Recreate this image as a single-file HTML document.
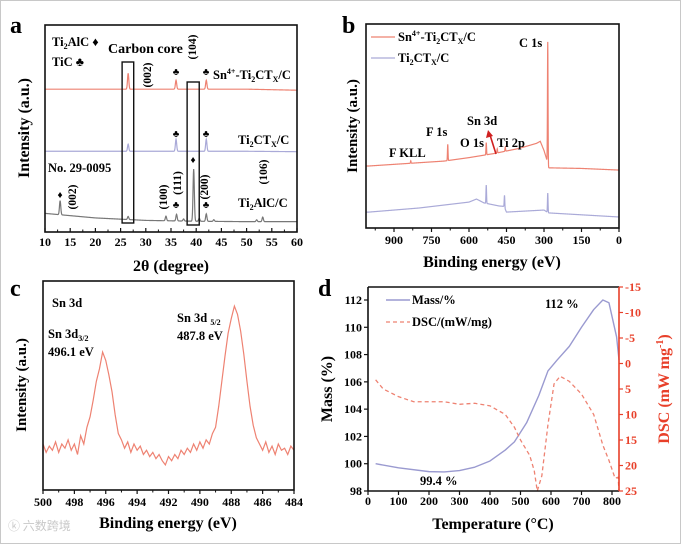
<!DOCTYPE html>
<html><head><meta charset="utf-8"><style>
html,body{margin:0;padding:0;background:#fff;}
svg{display:block;font-family:"Liberation Serif",serif;font-weight:bold;}
</style></head><body>
<svg id="fig" width="683" height="544" viewBox="0 0 683 544" xmlns="http://www.w3.org/2000/svg">
<rect x="0.5" y="0.5" width="680" height="543" fill="#fff" stroke="#c8c8c8"/>
<g font-size="24">
<text x="10" y="33">a</text>
<text x="342" y="33">b</text>
<text x="10" y="296">c</text>
<text x="318" y="296">d</text>
</g>
<g id="pa"></g>
<g id="pb"></g>
<g id="pc"></g>
<g id="pd"></g>

<g font-size="12.5">
<text transform="translate(29,128) rotate(-90)" font-size="16" text-anchor="middle">Intensity (a.u.)</text>
<text x="171" y="271" font-size="16" text-anchor="middle">2θ (degree)</text>
<text x="52" y="46">Ti<tspan font-size="8" dy="3">2</tspan><tspan dy="-3">AlC ♦</tspan></text>
<text x="52" y="66">TiC ♣</text>
<text x="108" y="53" font-size="14">Carbon core</text>
<text x="213" y="79">Sn<tspan font-size="8" dy="-5">4+</tspan><tspan dy="5">-Ti</tspan><tspan font-size="8" dy="3">2</tspan><tspan dy="-3">CT</tspan><tspan font-size="8" dy="3">X</tspan><tspan dy="-3">/C</tspan></text>
<text x="238" y="144">Ti<tspan font-size="8" dy="3">2</tspan><tspan dy="-3">CT</tspan><tspan font-size="8" dy="3">X</tspan><tspan dy="-3">/C</tspan></text>
<text x="238" y="207">Ti<tspan font-size="8" dy="3">2</tspan><tspan dy="-3">AlC/C</tspan></text>
<text x="48" y="172">No. 29-0095</text>
<text transform="translate(151,75) rotate(-90)" text-anchor="middle" font-size="11.5">(002)</text>
<text transform="translate(196,47) rotate(-90)" text-anchor="middle" font-size="11.5">(104)</text>
<text transform="translate(76,197) rotate(-90)" text-anchor="middle" font-size="11.5">(002)</text>
<text transform="translate(167,197) rotate(-90)" text-anchor="middle" font-size="11.5">(100)</text>
<text transform="translate(181,183) rotate(-90)" text-anchor="middle" font-size="11.5">(111)</text>
<text transform="translate(208,187) rotate(-90)" text-anchor="middle" font-size="11.5">(200)</text>
<text transform="translate(267,172) rotate(-90)" text-anchor="middle" font-size="11.5">(106)</text>
<g font-size="10" text-anchor="middle">
<text x="176" y="75">♣</text><text x="206" y="75">♣</text>
<text x="176" y="137">♣</text><text x="206" y="137">♣</text>
<text x="60" y="198">♦</text><text x="193" y="163">♦</text>
<text x="176" y="208">♣</text><text x="206" y="208">♣</text>
</g>
</g>

<g font-size="12.5">
<text transform="translate(357,126) rotate(-90)" text-anchor="middle" font-size="15">Intensity (a.u.)</text>
<text x="492" y="267" text-anchor="middle" font-size="16">Binding energy (eV)</text>
<line x1="371" y1="37" x2="395" y2="37" stroke="#ee8272" stroke-width="1.3"/>
<text x="398" y="41">Sn<tspan font-size="8" dy="-5">4+</tspan><tspan dy="5">-Ti</tspan><tspan font-size="8" dy="3">2</tspan><tspan dy="-3">CT</tspan><tspan font-size="8" dy="3">X</tspan><tspan dy="-3">/C</tspan></text>
<line x1="371" y1="58" x2="395" y2="58" stroke="#aaaad8" stroke-width="1.3"/>
<text x="398" y="62">Ti<tspan font-size="8" dy="3">2</tspan><tspan dy="-3">CT</tspan><tspan font-size="8" dy="3">X</tspan><tspan dy="-3">/C</tspan></text>
<text x="519" y="47">C 1s</text>
<text x="467" y="125">Sn 3d</text>
<text x="426" y="136">F 1s</text>
<text x="460" y="147">O 1s</text>
<text x="497" y="147">Ti 2p</text>
<text x="389" y="157">F KLL</text>
<line x1="496" y1="154" x2="490" y2="135" stroke="#d02020" stroke-width="1.6"/>
<path d="M488,130 L486,138 L493,136 Z" fill="#d02020"/>
</g>

<g font-size="12.5">
<text transform="translate(26,385) rotate(-90)" text-anchor="middle" font-size="15">Intensity (a.u.)</text>
<text x="168" y="528" text-anchor="middle" font-size="16">Binding energy (eV)</text>
<text x="52" y="307">Sn 3d</text>
<text x="48" y="338">Sn 3d<tspan font-size="8" dy="3">3/2</tspan></text>
<text x="48" y="356">496.1 eV</text>
<text x="177" y="322">Sn 3d <tspan font-size="8" dy="3">5/2</tspan></text>
<text x="177" y="340">487.8 eV</text>
<text x="8" y="530" font-size="12" fill="#c8c8c8" font-family="Noto Sans CJK SC, sans-serif" font-weight="normal">ⓚ 六数跨境</text>
</g>

<g font-size="12.5">
<text transform="translate(332,389) rotate(-90)" text-anchor="middle" font-size="16">Mass (%)</text>
<text transform="translate(669,389) rotate(-90)" text-anchor="middle" font-size="16" fill="#e8402a">DSC (mW mg<tspan font-size="10" dy="-6">-1</tspan><tspan dy="6">)</tspan></text>
<text x="493" y="529" text-anchor="middle" font-size="16">Temperature (°C)</text>
<line x1="386" y1="300" x2="410" y2="300" stroke="#9a9ad0" stroke-width="1.4"/>
<text x="412" y="304">Mass/%</text>
<line x1="386" y1="322" x2="410" y2="322" stroke="#ee8272" stroke-width="1.3" stroke-dasharray="4,3"/>
<text x="412" y="326">DSC/(mW/mg)</text>
<text x="545" y="308">112 %</text>
<text x="420" y="485">99.4 %</text>
</g>
</svg>
<script>
// ---------- Panel a data ----------
const xrdNames = ["Sn4+-Ti2CTx/C","Ti2CTx/C","Ti2AlC/C"];
const xrdBaseX = [10,20,30,40,50,60];
const xrdBaseSn = [69,69,69,69,69,68.5];
const xrdBaseTi = [39,39,39,39,39,38.8];
const xrdBaseAl = [9,6.8,5.6,5.2,5,5];
const xrdPeakPosSn = [26.5,36.0,42.0];
const xrdPeakHSn = [7.7,4.3,4.3];
const xrdPeakPosTi = [26.5,36.0,42.0];
const xrdPeakHTi = [3.4,5.8,5.8];
const xrdPeakPosAl = [13.0,26.5,34.0,36.1,37.5,39.5,40.6,42.0,43.5,52.0,53.2];
const xrdPeakHAl = [6.8,1.5,2.2,3.2,1.0,25.2,1.5,3.6,0.8,0.9,2.2];
const xrdTicks = [10,15,20,25,30,35,40,45,50,55,60];
// ---------- Panel b data ----------
const xpsTicks = [900,750,600,450,300,150,0];
const xpsBaseESn = [1000,800,700,600,500,400,330,315,300,290,287,283,150,0];
const xpsBaseISn = [30.4,32,32.8,34.5,36.5,39,41.5,42.5,38,34,33,29.5,29.2,28.4];
const xpsPeakESn = [285,685,531,487,455,833];
const xpsPeakHSn = [60,8,6,2,2,1.2];
const xpsBaseETi = [1000,800,600,570,540,480,460,450,300,282,0];
const xpsBaseITi = [7.8,9.8,12.7,14.2,12.3,10.8,10.6,7.8,8.8,7.4,5.4];
const xpsPeakETi = [531,458,285];
const xpsPeakHTi = [9,6,9.5];
// ---------- Panel c data ----------
const snTicks = [500,498,496,494,492,490,488,486,484];
const snStart = 500, snStep = -0.2;
const snIntensity = [22,18,21,19,23,18,22,20,24,19,22,17,26,22,30,35,43,52,58,66,62,55,47,36,27,24,20,23,18,22,19,21,17,19,16,18,15,17,14,12,16,14,17,15,19,17,20,18,22,19,23,20,24,22,27,30,40,52,64,75,82,88,84,76,65,52,40,31,25,22,19,23,18,21,17,22,19,20,17,21,19];
// ---------- Panel d data ----------
const tgaT = [25,100,200,250,300,350,400,450,480,520,560,590,620,660,700,740,770,790,803,815,823];
const tgaMass = [100,99.7,99.42,99.4,99.5,99.75,100.2,101,101.6,103,105,106.8,107.6,108.6,110,111.3,112,111.8,110.5,109.3,107.6];
const dscT = [25,50,100,150,250,300,350,400,450,480,500,530,545,555,570,590,610,630,660,700,740,770,790,810,820,835];
const dscVal = [3.2,5,6.5,7.5,7.5,8,7.8,8.3,10,12.5,15,18,21,25,22,12,4,2.5,3.5,6,10,16,19,22.5,22.3,25];
const massTicks = [98,100,102,104,106,108,110,112];
const dscTicks = [-15,-10,-5,0,5,10,15,20,25];
const tempTicks = [0,100,200,300,400,500,600,700,800];

const NS="http://www.w3.org/2000/svg";
function el(parent,tag,attrs,text){const e=document.createElementNS(NS,tag);for(const k in attrs)e.setAttribute(k,attrs[k]);if(text!==undefined)e.textContent=text;parent.appendChild(e);return e;}
function interp(xs,ys,x){for(let i=0;i<xs.length-1;i++){const a=xs[i],b=xs[i+1];if((x-a)*(x-b)<=0){return ys[i]+(ys[i+1]-ys[i])*(x-a)/(b-a);}}return Math.abs(x-xs[0])<Math.abs(x-xs[xs.length-1])?ys[0]:ys[ys.length-1];}
function frame(g,l,t,r,b,name){const f=el(g,'rect',{x:l,y:t,width:r-l,height:b-t,fill:'none',stroke:'#111','stroke-width':1.6});}

// ======= Panel A =======
(function(){
const g=document.getElementById('pa');
const L=45,R=297,T=25,B=232;
const sx=v=>L+(v-10)/50*(R-L), sy=v=>B-v/100*(B-T);
const traces=[[xrdBaseSn,xrdPeakPosSn,xrdPeakHSn,'#ee8272'],[xrdBaseTi,xrdPeakPosTi,xrdPeakHTi,'#aaaad8'],[xrdBaseAl,xrdPeakPosAl,xrdPeakHAl,'#777']];
traces.forEach((tr,i)=>{let d='';for(let x=10;x<=60.001;x+=0.05){let y=interp(xrdBaseX,tr[0],x);tr[1].forEach((c,j)=>{y+=tr[2][j]*Math.exp(-Math.pow((x-c)/0.18,2));});d+=(d?'L':'M')+sx(x).toFixed(2)+','+sy(y).toFixed(2);}
const p=el(g,'path',{d:d,fill:'none',stroke:tr[3],'stroke-width':1.2});

});
frame(g,L,T,R,B,'panel-a-plot-frame');
xrdTicks.forEach(v=>{el(g,'line',{x1:sx(v),x2:sx(v),y1:B,y2:B-4,stroke:'#111','stroke-width':1.2});
const t=el(g,'text',{x:sx(v),y:B+14,'font-size':12,'text-anchor':'middle'},v);

});
for(let v=12.5;v<60;v+=5){el(g,'line',{x1:sx(v),x2:sx(v),y1:B,y2:B-2.5,stroke:'#111'});}
[[25.3,27.6,62,223],[38.2,40.6,82,225]].forEach((b,i)=>{const r=el(g,'rect',{x:sx(b[0]),y:b[2],width:sx(b[1])-sx(b[0]),height:b[3]-b[2],fill:'none',stroke:'#111','stroke-width':1.4});

});
})();

// ======= Panel B =======
(function(){
const g=document.getElementById('pb');
const L=366,R=619,T=24,B=228;
const sx=v=>R-v*0.25, sy=v=>B-v/100*(B-T);
const tr=[[xpsBaseESn,xpsBaseISn,xpsPeakESn,xpsPeakHSn,'#ee8272','xps-trace-sn-ti2ctx'],[xpsBaseETi,xpsBaseITi,xpsPeakETi,xpsPeakHTi,'#aaaad8','xps-trace-ti2ctx']];
tr.forEach(t=>{let d='';for(let e=1012;e>=0;e-=0.5){let y=interp(t[0],t[1],e);t[2].forEach((c,j)=>{y+=t[3][j]*Math.exp(-Math.pow((e-c)/1.6,2));});d+=(d?'L':'M')+sx(e).toFixed(2)+','+sy(y).toFixed(2);}
const p=el(g,'path',{d:d,fill:'none',stroke:t[4],'stroke-width':1.2});

});
frame(g,L,T,R,B,'panel-b-plot-frame');
xpsTicks.forEach(v=>{el(g,'line',{x1:sx(v),x2:sx(v),y1:B,y2:B+4,stroke:'#111','stroke-width':1.2});
const t=el(g,'text',{x:sx(v),y:B+16,'font-size':12,'text-anchor':'middle'},v);

});
for(let v=75;v<1000;v+=150){el(g,'line',{x1:sx(v),x2:sx(v),y1:B,y2:B+2.5,stroke:'#111'});}
})();

// ======= Panel C =======
(function(){
const g=document.getElementById('pc');
const L=43,R=294,T=281,B=490;
const sx=v=>L+(500-v)/16*(R-L), sy=v=>B-v/100*(B-T);
let d='';snIntensity.forEach((v,i)=>{const e=snStart+i*snStep;d+=(i?'L':'M')+sx(e).toFixed(2)+','+sy(v).toFixed(2);});
const p=el(g,'path',{d:d,fill:'none',stroke:'#ee8272','stroke-width':1.2});


frame(g,L,T,R,B,'panel-c-plot-frame');
snTicks.forEach(v=>{el(g,'line',{x1:sx(v),x2:sx(v),y1:B,y2:B+4,stroke:'#111','stroke-width':1.2});
const t=el(g,'text',{x:sx(v),y:B+16,'font-size':12,'text-anchor':'middle'},v);

});
for(let v=499;v>484;v-=2){el(g,'line',{x1:sx(v),x2:sx(v),y1:B,y2:B+2.5,stroke:'#111'});}
})();

// ======= Panel D =======
(function(){
const g=document.getElementById('pd');
const L=368,R=619,T=287,B=491;
const sx=v=>L+v*0.305;
const syM=v=>B-(v-98)*((B-300)/14);
const syD=v=>T+(v+15)/40*(B-T);
let d='';tgaT.forEach((t,i)=>{d+=(i?'L':'M')+sx(t).toFixed(2)+','+syM(tgaMass[i]).toFixed(2);});
const p=el(g,'path',{d:d,fill:'none',stroke:'#9a9ad0','stroke-width':1.4,'stroke-linejoin':'round'});


let d2='';dscT.forEach((t,i)=>{const x=Math.min(sx(t),R);d2+=(i?'L':'M')+x.toFixed(2)+','+syD(dscVal[i]).toFixed(2);});
const p2=el(g,'path',{d:d2,fill:'none',stroke:'#ee8272','stroke-width':1.3,'stroke-dasharray':'4,3'});


el(g,'line',{x1:L,y1:T,x2:L,y2:B,stroke:'#111','stroke-width':1.6});
el(g,'line',{x1:L,y1:B,x2:R,y2:B,stroke:'#111','stroke-width':1.6});
el(g,'line',{x1:L,y1:T,x2:R,y2:T,stroke:'#111','stroke-width':1.6});
el(g,'line',{x1:R,y1:T,x2:R,y2:B,stroke:'#e8402a','stroke-width':1.6});
tempTicks.forEach(v=>{el(g,'line',{x1:sx(v),x2:sx(v),y1:B,y2:B+4,stroke:'#111','stroke-width':1.2});
const t=el(g,'text',{x:sx(v),y:B+14,'font-size':12,'text-anchor':'middle'},v);

});
massTicks.forEach(v=>{el(g,'line',{x1:L-4,x2:L,y1:syM(v),y2:syM(v),stroke:'#111','stroke-width':1.2});
const t=el(g,'text',{x:L-6,y:syM(v)+4,'font-size':12,'text-anchor':'end'},v);

});
dscTicks.forEach(v=>{el(g,'line',{x1:R,x2:R+4,y1:syD(v),y2:syD(v),stroke:'#e8402a','stroke-width':1.2});
const t=el(g,'text',{x:R+6,y:syD(v)+4,'font-size':12,fill:'#e8402a'},v);

});
})();
</script>
</body></html>
